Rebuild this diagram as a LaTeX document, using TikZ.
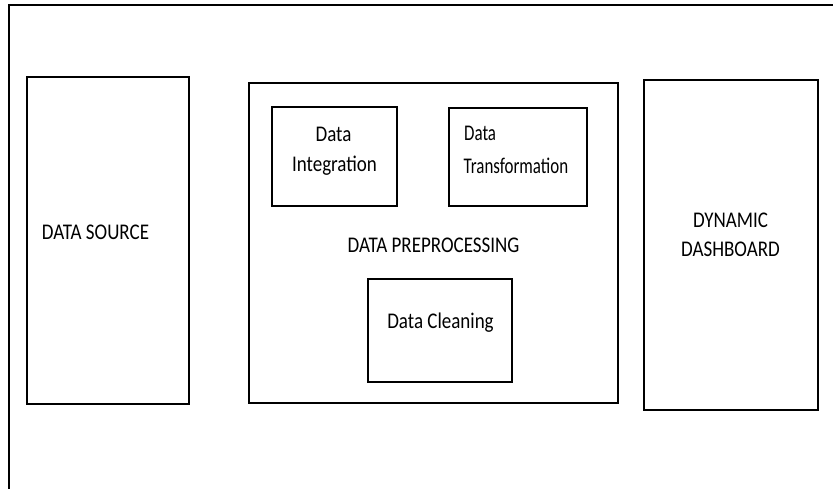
\documentclass[tikz,border=0pt]{standalone}
\usepackage{fontspec}
\setmainfont{Carlito}
\begin{document}
\begin{tikzpicture}[x=1pt,y=-1pt,
  box/.style={draw=black,line width=1.9pt},
  lbl/.style={font=\fontsize{19}{23}\selectfont,inner sep=0pt,anchor=base,yscale=1.18}]
\useasboundingbox (0,0) rectangle (833,488);
\clip (0,0) rectangle (833,488);
\fill[white] (0,0) rectangle (833,488);
\draw[line width=1.9pt] (9,495) -- (9,5) -- (840,5);
% boxes
\draw[box] (27,77) rectangle (189,404);
\draw[box] (249,83) rectangle (618,403);
\draw[box] (644,80) rectangle (818,410);
\draw[box] (272,107) rectangle (397,206);
\draw[box] (449,108) rectangle (587,206);
\draw[box] (368,279) rectangle (512,382);
% labels
\node[lbl] (src) at (95.5,239) {DATA SOURCE};
\node[lbl] (pre) at (433.5,252) {DATA PREPROCESSING};
\node[lbl] (dash1) at (730.5,227) {DYNAMIC};
\node[lbl] (dash2) at (730.5,256) {DASHBOARD};
\node[lbl] (int1) at (333.5,141.7) {Data};
\node[lbl] (int2) at (334.5,171.5) {Integration};
\node[lbl,anchor=base west,xscale=0.89] (trf1) at (464,140) {Data};
\node[lbl,anchor=base west,xscale=0.89] (trf2) at (463.5,173) {Transformation};
\node[lbl] (cln) at (440.5,328) {Data Cleaning};
\end{tikzpicture}
\end{document}
